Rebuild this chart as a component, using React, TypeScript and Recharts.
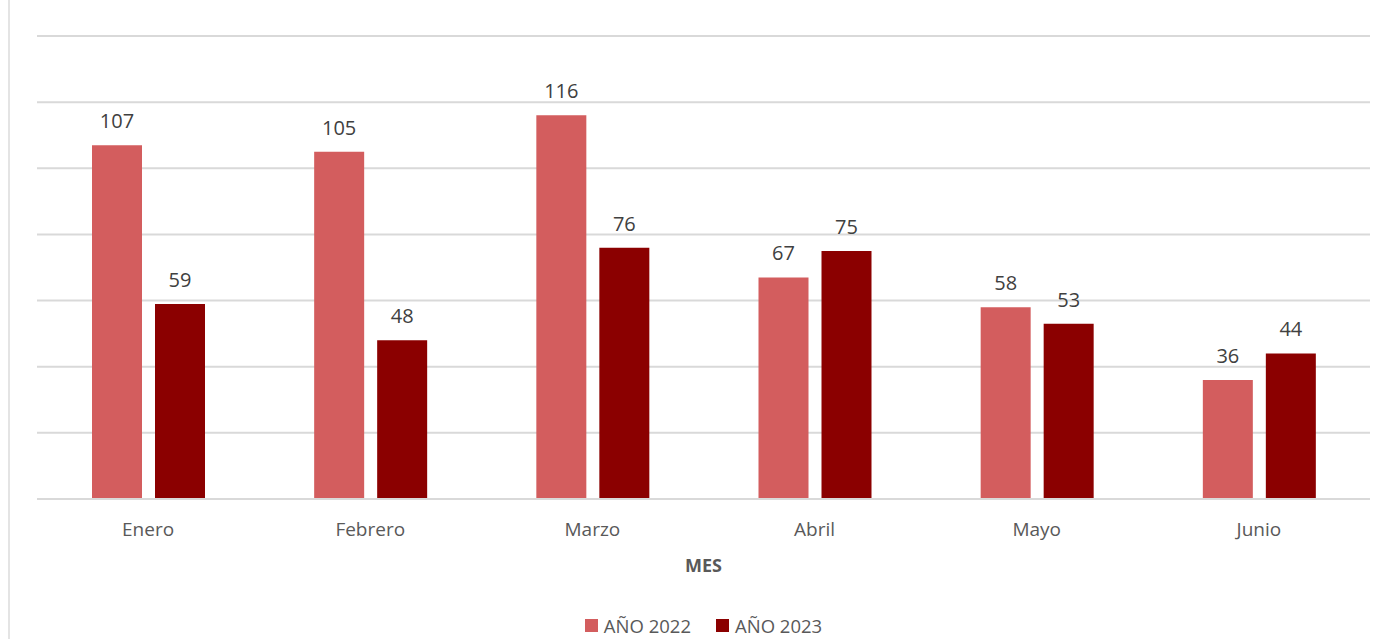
import React from 'react'
import { BarChart, Bar, XAxis, YAxis, CartesianGrid, LabelList, Legend } from 'recharts'

const MONTHS = ['Enero', 'Febrero', 'Marzo', 'Abril', 'Mayo', 'Junio']
const YEAR_2022 = [107, 105, 116, 67, 58, 36]
const YEAR_2023 = [59, 48, 76, 75, 53, 44]
const Y_TICKS = [0, 20, 40, 60, 80, 100, 120, 140]

const data = MONTHS.map((m, i) => ({ mes: m, a2022: YEAR_2022[i], a2023: YEAR_2023[i] }))

const FONT = '"Open Sans", Lato, sans-serif'

function LegendBox() {
  const items = [
    { label: 'AÑO 2022', color: '#D35D5E' },
    { label: 'AÑO 2023', color: '#8B0000' },
  ]
  return (
    <div style={{ display: 'flex', justifyContent: 'center', gap: 25, paddingTop: 14, fontFamily: FONT, fontSize: 18.5, color: '#595959' }}>
      {items.map((it) => (
        <div key={it.label} style={{ display: 'flex', alignItems: 'center' }}>
          <span style={{ width: 13, height: 13, background: it.color, display: 'inline-block', marginRight: 6 }} />
          {it.label}
        </div>
      ))}
    </div>
  )
}

export default function App() {
  return (
    <div style={{ position: 'absolute', left: 0, top: 0, width: 1374, height: 639, background: '#fff', overflow: 'hidden' }}>
      <div style={{ position: 'absolute', left: 8, top: 0, width: 0, height: 639, borderLeft: '2px solid #E4E4E4' }} />
      <BarChart
        width={1374}
        height={654}
        data={data}
        margin={{ top: 36, right: 4, left: 37, bottom: 0 }}
        barGap={13}
        barSize={50}
      >
        <CartesianGrid vertical={false} stroke="#D9D9D9" strokeWidth={2} />
        <YAxis hide domain={[0, 140]} ticks={Y_TICKS} />
        <XAxis
          dataKey="mes"
          tickLine={false}
          axisLine={{ stroke: '#D9D9D9', strokeWidth: 2 }}
          tick={{ fill: '#595959', fontSize: 19, fontFamily: FONT }}
          tickMargin={18}
          height={100}
          label={{ value: 'MES', position: 'insideTop', dy: 55, fill: '#595959', fontSize: 18, fontWeight: 'bold', fontFamily: FONT }}
        />
        <Legend verticalAlign="bottom" content={() => <LegendBox />} wrapperStyle={{ height: 55 }} />
        <Bar dataKey="a2022" name="AÑO 2022" fill="#D35D5E" isAnimationActive={false}>
          <LabelList dataKey="a2022" position="top" offset={17} fill="#404040" fontSize={20} fontFamily={FONT} />
        </Bar>
        <Bar dataKey="a2023" name="AÑO 2023" fill="#8B0000" isAnimationActive={false}>
          <LabelList dataKey="a2023" position="top" offset={17} fill="#404040" fontSize={20} fontFamily={FONT} />
        </Bar>
      </BarChart>
    </div>
  )
}
